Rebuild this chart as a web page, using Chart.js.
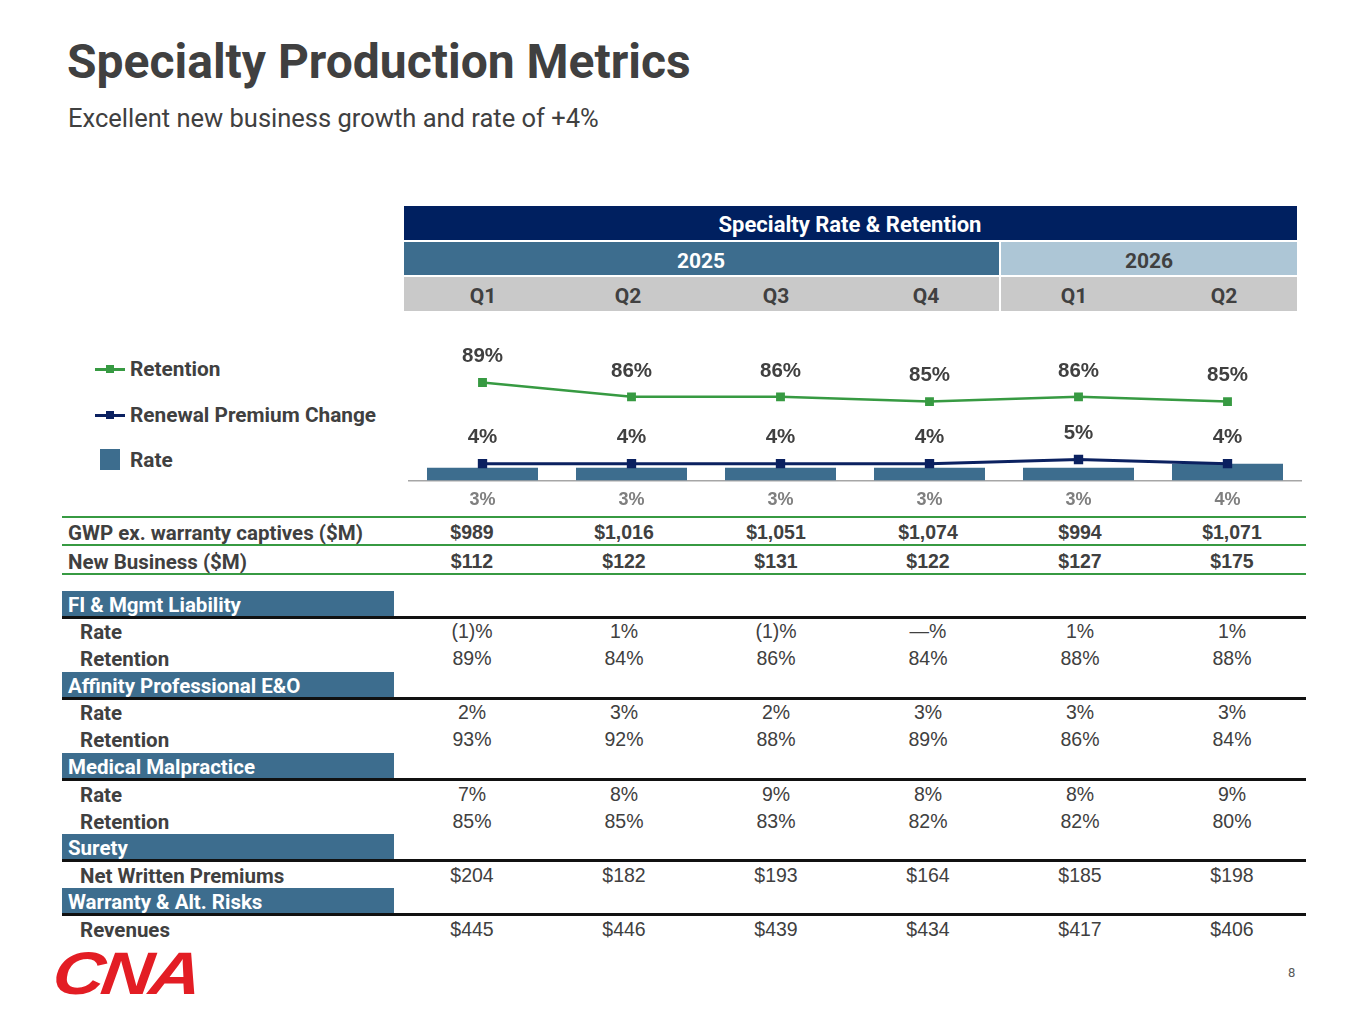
<!DOCTYPE html>
<html>
<head>
<meta charset="utf-8">
<script src="https://cdn.jsdelivr.net/npm/chart.js@4.4.1/dist/chart.umd.min.js"></script>
<style>
  body { margin: 0; width: 1365px; height: 1024px; background: #fff; position: relative; overflow: hidden; font-family: Roboto, sans-serif; color: #404040; }
  .abs { position: absolute; white-space: nowrap; line-height: 1; }
  .c { transform: translate(-50%, -50%); }
  .l { transform: translate(0, -50%); }
  .box { position: absolute; }
  #chartWrap { position: absolute; left: 408px; top: 330px; width: 894px; height: 190px; }
</style>
</head>
<body>
<div class="abs" style="left:67px; top:38px; font-size:48px; font-weight:700;">Specialty Production Metrics</div>
<div class="abs" style="left:68px; top:106px; font-size:25.5px;">Excellent new business growth and rate of +4%</div>

<div id="chartWrap"><canvas id="chart"></canvas></div>

<div class="abs" style="left:57px; top:944px; font-family:'Liberation Sans', Arial, sans-serif; font-size:60px; font-weight:900; font-style:italic; color:#e31d24; letter-spacing:-3px; transform: scaleX(1.2) skewX(-6deg); transform-origin: left top;">CNA</div>
<div class="abs" style="left:1288px; top:966px; font-size:13px; color:#595959;">8</div>

<script>
// header rows
const quarters = ['Q1', 'Q2', 'Q3', 'Q4', 'Q1', 'Q2'];
const years = ['2025', '2026'];
// chart series (%)
const retention = [89, 86, 86, 85, 86, 85];
const renewalPremiumChange = [4, 4, 4, 4, 5, 4];
const rate = [3, 3, 3, 3, 3, 4];
// table rows
const gwp = ['$989', '$1,016', '$1,051', '$1,074', '$994', '$1,071'];
const newBusiness = ['$112', '$122', '$131', '$122', '$127', '$175'];
const fiRate = ['(1)%', '1%', '(1)%', '\u2014%', '1%', '1%'];
const fiRetention = ['89%', '84%', '86%', '84%', '88%', '88%'];
const affinityRate = ['2%', '3%', '2%', '3%', '3%', '3%'];
const affinityRetention = ['93%', '92%', '88%', '89%', '86%', '84%'];
const medRate = ['7%', '8%', '9%', '8%', '8%', '9%'];
const medRetention = ['85%', '85%', '83%', '82%', '82%', '80%'];
const suretyNwp = ['$204', '$182', '$193', '$164', '$185', '$198'];
const warrantyRevenues = ['$445', '$446', '$439', '$434', '$417', '$406'];

const green = '#379a42';
const navy = '#0b2160';
const steel = '#3d6d8e';
const textColor = '#404040';
const numFont = "'Liberation Sans', Arial, sans-serif";

const put = (text, x, y, cls, style) => {
    const el = document.createElement('div');
    el.className = 'abs ' + cls;
    el.style.left = x + 'px';
    el.style.top = y + 'px';
    Object.assign(el.style, style || {});
    el.textContent = text;
    document.body.appendChild(el);
    return el;
}
const rect = (x, y, w, h, color) => {
    const el = document.createElement('div');
    el.className = 'box';
    Object.assign(el.style, { left: x + 'px', top: y + 'px', width: w + 'px', height: h + 'px', background: color });
    document.body.appendChild(el);
}

// header block
rect(404, 206, 893, 34, '#002060');
rect(404, 242, 595, 33, '#3d6d8e');
rect(1001, 242, 296, 33, '#adc6d6');
rect(404, 277, 595, 34, '#c9c9c9');
rect(1001, 277, 296, 34, '#c9c9c9');
put('Specialty Rate & Retention', 850, 225, 'c', { fontSize: '22px', fontWeight: '700', color: '#fff' });
put(years[0], 701, 261, 'c', { fontSize: '21px', fontWeight: '700', color: '#fff' });
put(years[1], 1149, 261, 'c', { fontSize: '21px', fontWeight: '700', color: textColor });
const headerX = [483, 628, 776, 926, 1074, 1224];
quarters.forEach((q, i) => put(q, headerX[i], 296, 'c', { fontSize: '21px', fontWeight: '700', color: textColor }));

// legend
const legendItem = (y, color, label, isBar) => {
    if (isBar) {
        rect(100, y - 11, 20, 21, steel);
    } else {
        rect(95, y - 1.5, 30, 3, color);
        rect(106, y - 4, 8, 8, color);
    }
    put(label, 130, y, 'l', { fontSize: '20.8px', fontWeight: '700', color: textColor });
}
legendItem(369, green, 'Retention');
legendItem(415, navy, 'Renewal Premium Change');
legendItem(460, steel, 'Rate', true);

// lower table
const colX = [472, 624, 776, 928, 1080, 1232];
const hline = (y, color, h) => rect(62, y, 1244, h, color);
hline(516, green, 2);
hline(544, green, 2);
hline(573, green, 2);

const valueRow = (label, values, y, bold, indent) => {
    put(label, indent ? 80 : 68, y, 'l', { fontSize: '20.5px', fontWeight: '700', color: textColor });
    values.forEach((v, i) => put(v, colX[i], y, 'c', { fontFamily: numFont, fontSize: '19.5px', fontWeight: bold ? '700' : '400', color: textColor }));
}
valueRow('GWP ex. warranty captives ($M)', gwp, 533, true);
valueRow('New Business ($M)', newBusiness, 562, true);

const section = (title, top) => {
    rect(62, top, 332, 26, steel);
    hline(top + 25, '#111', 2.5);
    put(title, 68, top + 14, 'l', { fontSize: '20.5px', fontWeight: '700', color: '#fff' });
}
section('FI & Mgmt Liability', 591);
valueRow('Rate', fiRate, 632, false, true);
valueRow('Retention', fiRetention, 659, false, true);
section('Affinity Professional E&O', 672);
valueRow('Rate', affinityRate, 713, false, true);
valueRow('Retention', affinityRetention, 740, false, true);
section('Medical Malpractice', 753);
valueRow('Rate', medRate, 795, false, true);
valueRow('Retention', medRetention, 822, false, true);
section('Surety', 834);
valueRow('Net Written Premiums', suretyNwp, 876, false, true);
section('Warranty & Alt. Risks', 888);
valueRow('Revenues', warrantyRevenues, 930, false, true);

// value labels above the line points
const pointLabels = {
    id: 'pointLabels',
    afterDatasetsDraw(chart) {
        const ctx = chart.ctx;
        ctx.save();
        ctx.font = 'bold 20.5px ' + numFont;
        ctx.fillStyle = textColor;
        ctx.textAlign = 'center';
        ctx.textBaseline = 'middle';
        chart.data.datasets.forEach((ds, di) => {
            if (ds.type !== 'line') return;
            chart.getDatasetMeta(di).data.forEach((pt, i) => {
                ctx.fillText(ds.data[i] + '%', pt.x, pt.y - 26);
            });
        });
        ctx.restore();
    }
}

new Chart(document.getElementById('chart').getContext('2d'), {
    data: {
        labels: quarters,
        datasets: [
            {
                type: 'line',
                label: 'Retention',
                data: retention,
                yAxisID: 'y2',
                borderColor: green,
                backgroundColor: green,
                borderWidth: 2.5,
                pointStyle: 'rect',
                pointRadius: 4.5,
                order: 0
            },
            {
                type: 'line',
                label: 'Renewal Premium Change',
                data: renewalPremiumChange,
                yAxisID: 'y',
                borderColor: navy,
                backgroundColor: navy,
                borderWidth: 3,
                pointStyle: 'rect',
                pointRadius: 4.5,
                order: 1
            },
            {
                type: 'bar',
                label: 'Rate',
                data: rate,
                yAxisID: 'y',
                backgroundColor: steel,
                barPercentage: 0.745,
                categoryPercentage: 1,
                order: 2
            }
        ]
    },
    options: {
        responsive: true,
        maintainAspectRatio: false,
        animation: false,
        layout: { padding: 0, autoPadding: false },
        plugins: {
            legend: { display: false },
            tooltip: { enabled: false }
        },
        scales: {
            x: {
                grid: { display: false, drawTicks: false },
                border: { display: true, color: '#a6a6a6', width: 1.5 },
                ticks: {
                    callback: (v, i) => rate[i] + '%',
                    color: '#7f7f7f',
                    font: { family: numFont, size: 18, weight: 'bold' },
                    padding: 9
                }
            },
            y: { display: false, min: 0, max: 36 },
            y2: { display: false, min: 68.5, max: 100 }
        }
    },
    plugins: [pointLabels]
});
</script>
</body>
</html>
